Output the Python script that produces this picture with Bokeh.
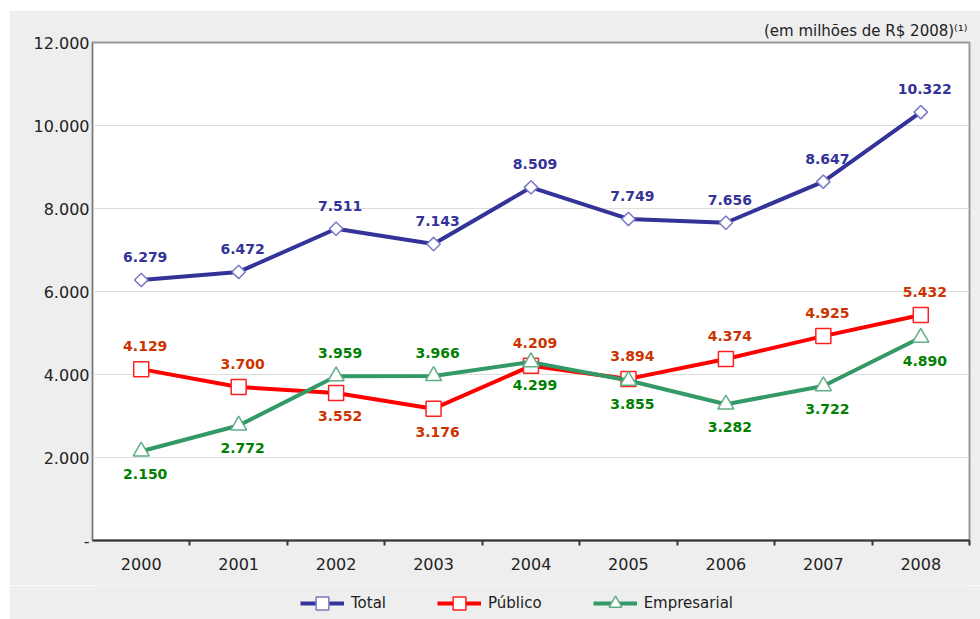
from bokeh.plotting import figure
from bokeh.layouts import column
from bokeh.models import Range1d, FixedTicker, Legend, LegendItem, ColumnDataSource
from bokeh.core.properties import value
from bokeh.embed import file_html
from bokeh.resources import INLINE

years = ["2000", "2001", "2002", "2003", "2004", "2005", "2006", "2007", "2008"]
total = [6279, 6472, 7511, 7143, 8509, 7749, 7656, 8647, 10322]
publico = [4129, 3700, 3552, 3176, 4209, 3894, 4374, 4925, 5432]
empresarial = [2150, 2772, 3959, 3966, 4299, 3855, 3282, 3722, 4890]
y_ticks = [0, 2000, 4000, 6000, 8000, 10000, 12000]
y_tick_labels = ["-", "2.000", "4.000", "6.000", "8.000", "10.000", "12.000"]
# label side: 1 = above the point, -1 = below
total_side = [1, 1, 1, 1, 1, 1, 1, 1, 1]
pub_side = [1, 1, -1, -1, 1, 1, 1, 1, 1]
emp_side = [-1, -1, 1, 1, -1, -1, -1, -1, -1]

FONT = "DejaVu Sans"
BG = "#eeeeee"
xs = list(range(len(years)))


def fmt(v):
    return f"{v:,}".replace(",", ".")


p = figure(width=971, height=575, output_backend="svg", toolbar_location=None,
           x_range=Range1d(-0.5, len(years) - 0.5), y_range=Range1d(0, 12000),
           min_border_left=83, min_border_right=11, min_border_top=32, min_border_bottom=45)
p.border_fill_color = BG
p.background_fill_color = "white"
p.outline_line_color = "#999999"
p.outline_line_width = 2

p.title.text = "(em milhões de R$ 2008)⁽¹⁾"
p.title.align = "right"
p.title.text_font = FONT
p.title.text_font_size = "15px"
p.title.text_font_style = "normal"
p.title.text_color = "#222222"
p.title.standoff = 5
p.title.offset = 2

p.xgrid.visible = False
p.ygrid.ticker = FixedTicker(ticks=y_ticks)
p.ygrid.grid_line_color = "#dddddd"

p.xaxis.ticker = FixedTicker(ticks=xs, minor_ticks=[i + 0.5 for i in xs])
p.xaxis.major_label_overrides = {i: y for i, y in zip(xs, years)}
p.xaxis.major_tick_line_color = None
p.xaxis.major_tick_out = 0
p.xaxis.major_tick_in = 0
p.xaxis.minor_tick_line_color = "#333333"
p.xaxis.minor_tick_line_width = 2
p.xaxis.minor_tick_out = 5
p.xaxis.minor_tick_in = 0
p.xaxis.axis_line_color = "#333333"
p.xaxis.axis_line_width = 2
p.xaxis.major_label_standoff = 12

p.yaxis.ticker = FixedTicker(ticks=y_ticks)
p.yaxis.major_label_overrides = {t: l for t, l in zip(y_ticks, y_tick_labels)}
p.yaxis.major_tick_line_color = None
p.yaxis.major_tick_out = 0
p.yaxis.major_tick_in = 0
p.yaxis.minor_tick_line_color = None
p.yaxis.axis_line_color = "#777777"
p.yaxis.major_label_standoff = 3

for ax in (p.xaxis[0], p.yaxis[0]):
    ax.major_label_text_font = FONT
    ax.major_label_text_font_size = "16px"
    ax.major_label_text_color = "#222222"

series = [
    ("Total", total, total_side, "#333399", "#7a7ac4", "#333399", "square", 9.5, 0.785398),
    ("Público", publico, pub_side, "#ff0000", "#ff2020", "#cc3300", "square", 15, 0.0),
    ("Empresarial", empresarial, emp_side, "#339966", "#5fae85", "#008000", "triangle", 16, 0.0),
]

# separate strip for the legend, below the chart (its renderers fall outside its range)
lf = figure(width=971, height=34, output_backend="svg", toolbar_location=None,
            x_range=Range1d(-100, -99), y_range=Range1d(-100, -99), min_border=0)
lf.axis.visible = False
lf.grid.visible = False
lf.outline_line_color = None
lf.border_fill_color = BG
lf.background_fill_color = BG

items = []
for name, vals, side, lc, mc, tc, marker, size, ang in series:
    src = ColumnDataSource(dict(
        x=xs, y=vals, lab=[fmt(v) for v in vals],
        off=[-23 * s for s in side]))
    p.line("x", "y", source=src, line_color=lc, line_width=4)
    p.scatter("x", "y", source=src, marker=marker, size=size, angle=ang,
              fill_color="white", line_color=mc, line_width=1.5)
    p.text("x", "y", text="lab", source=src, y_offset="off", x_offset=4,
           text_align="center", text_baseline="middle", text_color=tc,
           text_font=value(FONT), text_font_style="bold", text_font_size="14px")
    lr = lf.line("x", "y", source=src, line_color=lc, line_width=4)
    sr = lf.scatter("x", "y", source=src, marker=marker, size=size, angle=ang,
                    fill_color="white", line_color=mc, line_width=1.5)
    items.append(LegendItem(label=name, renderers=[lr, sr], index=0))

legend = Legend(items=items, orientation="horizontal", location=(208, 0),
                glyph_width=44, glyph_height=32, label_height=32, label_standoff=7, spacing=51,
                padding=0, margin=0, background_fill_alpha=0, border_line_color=None,
                label_text_font=FONT, label_text_font_size="15px", label_text_color="#222222")
lf.add_layout(legend, "center")

layout = column(p, lf, spacing=0, margin=(10, 0, 0, 9))
open("out.html", "w").write(file_html(layout, INLINE))
